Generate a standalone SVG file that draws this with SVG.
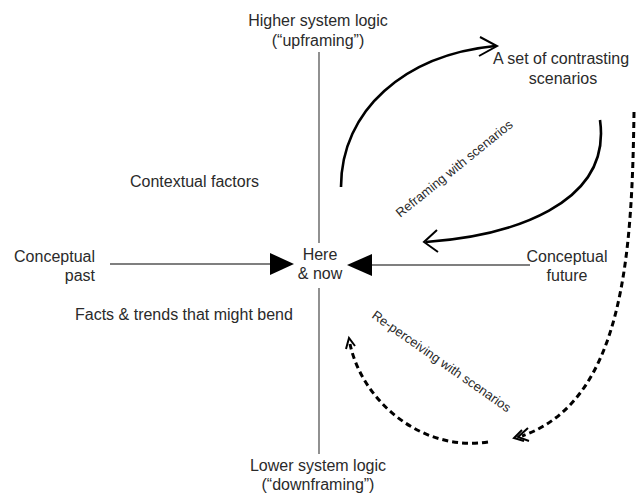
<svg xmlns="http://www.w3.org/2000/svg" width="637" height="495" viewBox="0 0 637 495">
<style>
text{font-family:"Liberation Sans",Arial,sans-serif;font-size:16px;fill:#2a2a2a}
.s{font-size:13px}
.ax{stroke:#555;stroke-width:1.3;fill:none}
.arc{stroke:#000;stroke-width:2.6;fill:none}
.ds{stroke:#000;stroke-width:3;fill:none;stroke-dasharray:6,4}
.ch{stroke:#000;stroke-width:2;fill:none;stroke-linejoin:miter}
</style>
<rect width="637" height="495" fill="#fff"/>
<g id="connectors">
<line class="ax" x1="319" y1="52" x2="319" y2="243"/>
<line class="ax" x1="319" y1="288" x2="319" y2="454"/>
<line class="ax" x1="110" y1="264" x2="275" y2="264"/>
<polygon points="270,253 294,264 270,275" fill="#000"/>
<line class="ax" x1="368" y1="265" x2="530" y2="265"/>
<polygon points="372,254 347,265 372,276" fill="#000"/>
<path class="arc" d="M341,187 C341,110 405,55 495,46"/>
<polyline class="ch" points="480,37 497,46 479,56"/>
<path class="arc" d="M600,120 C612,205 510,236 426,242"/>
<polyline class="ch" points="437,230 424,242 438,252"/>
<path class="ds" d="M634,112 C632,250 625,400 522,436"/>
<polyline class="ch" points="528,428 518,437 529,441"/>
<polyline class="ch" points="522,430 514,438 524,441"/>
<path class="ds" d="M488,442 C420,452 362,400 350,344"/>
<polyline class="ch" points="346,349 349,338 355,346"/>
</g>
<g id="top"><text x="318" y="26" text-anchor="middle">Higher system logic</text><text x="318" y="46" text-anchor="middle">(“upframing”)</text></g>
<g id="bottom"><text x="318" y="471" text-anchor="middle">Lower system logic</text><text x="318" y="490" text-anchor="middle">(“downframing”)</text></g>
<g id="here"><text x="320" y="260" text-anchor="middle">Here</text><text x="320" y="279" text-anchor="middle">&amp; now</text></g>
<g id="past"><text x="95" y="262" text-anchor="end">Conceptual</text><text x="95" y="281" text-anchor="end">past</text></g>
<g id="future"><text x="567" y="262" text-anchor="middle">Conceptual</text><text x="567" y="281" text-anchor="middle">future</text></g>
<g id="scenarios"><text x="493" y="64">A set of contrasting</text><text x="563" y="84" text-anchor="middle">scenarios</text></g>
<g id="context"><text x="130" y="187">Contextual factors</text></g>
<g id="facts"><text x="75" y="320">Facts &amp; trends that might bend</text></g>
<g id="reframing"><text class="s" transform="translate(457,172) rotate(-39)" text-anchor="middle">Reframing with scenarios</text></g>
<g id="reperceiving"><text class="s" transform="translate(439,365) rotate(35)" text-anchor="middle">Re-perceiving with scenarios</text></g>
</svg>
